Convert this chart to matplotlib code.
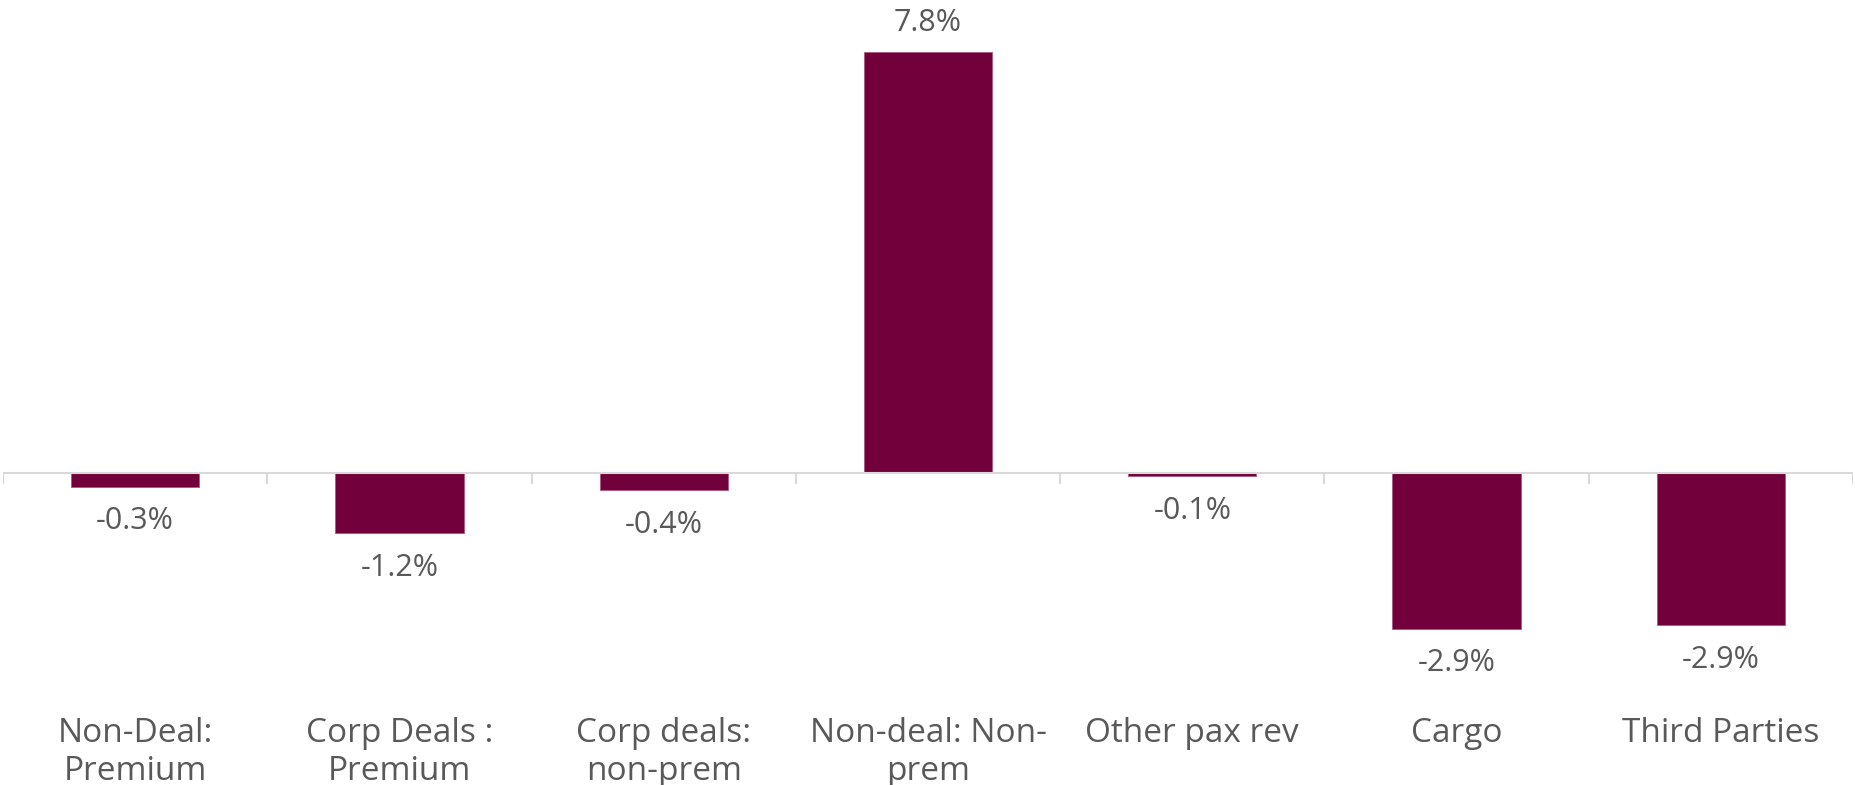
import matplotlib
matplotlib.use("Agg")
import matplotlib.pyplot as plt

# Data
categories = ["Non-Deal:\nPremium", "Corp Deals :\nPremium", "Corp deals:\nnon-prem",
              "Non-deal: Non-\nprem", "Other pax rev", "Cargo", "Third Parties"]
values = [-0.25, -1.12, -0.32, 7.8, -0.06, -2.88, -2.82]
value_labels = ["-0.3%", "-1.2%", "-0.4%", "7.8%", "-0.1%", "-2.9%", "-2.9%"]

BAR_COLOR = "#72003A"
TEXT_COLOR = "#595959"
GRID_COLOR = "#D9D9D9"

plt.rcParams["font.family"] = ["Open Sans", "DejaVu Sans"]

fig = plt.figure(figsize=(18.56, 7.85), dpi=100)
ax = fig.add_axes([0.0016, 0.134, 0.9968, 0.866])

x = list(range(len(categories)))
ax.bar(x, values, width=0.485, color=BAR_COLOR, edgecolor="#A8587F", linewidth=0.6, zorder=2)

ax.set_xlim(-0.5, len(categories) - 0.5)
ax.set_ylim(-3.83, 8.76)

# zero line with category separators
ax.axhline(0, color=GRID_COLOR, linewidth=1.5, zorder=3)
ax.vlines([i - 0.5 for i in range(len(categories) + 1)], -0.21, 0,
          color=GRID_COLOR, linewidth=1.5, zorder=3)

# value labels
for xi, v, lab in zip(x, values, value_labels):
    off = 21 if v >= 0 else -25
    ax.annotate(lab, (xi, v), xytext=(0, off), textcoords="offset points",
                ha="center", va="center", fontsize=22, color=TEXT_COLOR)

ax.set_xticks(x)
ax.set_xticklabels(categories, fontsize=24, color=TEXT_COLOR, linespacing=1.17, va="top")
ax.tick_params(axis="x", length=0, pad=27)
ax.set_yticks([])
for s in ax.spines.values():
    s.set_visible(False)

fig.savefig("out.png", dpi=100)
